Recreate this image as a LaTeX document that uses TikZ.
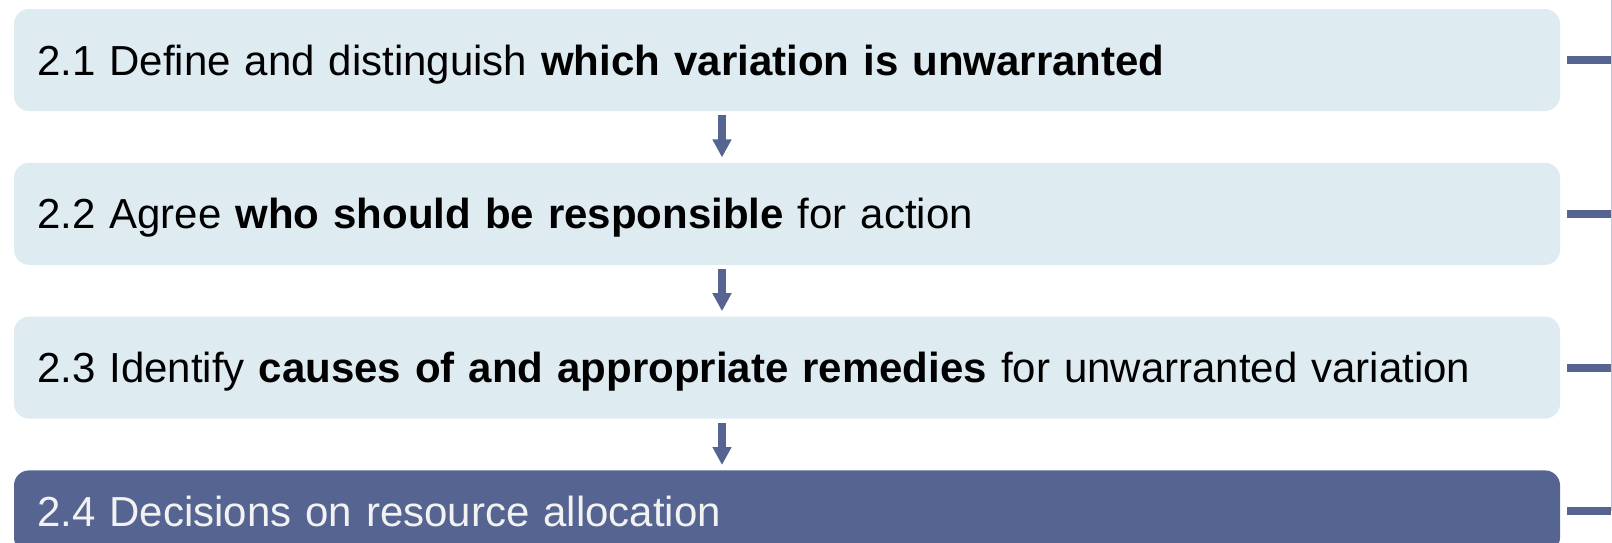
\documentclass[tikz,border=0pt]{standalone}
\usepackage{fontspec}
\setmainfont{Liberation Sans}
\usepackage{xcolor}
\usepackage{tikz}
\usetikzlibrary{arrows.meta,positioning}

\definecolor{steplight}{HTML}{DEEBF1}
\definecolor{stepdark}{HTML}{556491}
\definecolor{railgrey}{HTML}{BFC5D6}

\tikzset{
  stepbox/.style={rectangle,rounded corners=7.5pt,fill=steplight,text=black,
    text width=750pt,align=left,inner xsep=11.5pt,inner ysep=0pt,
    text height=15pt,text depth=0pt,
    minimum height=51pt,font=\fontsize{21pt}{25pt}\selectfont},
  lastbox/.style={stepbox,fill=stepdark,text=white!95!black,minimum height=41pt},
  flow/.style={draw=stepdark,line width=4pt,-{Triangle[width=9pt,length=9pt]},
    shorten <=2pt,shorten >=2.5pt},
  tick/.style={draw=stepdark,line width=4pt},
  rail/.style={draw=railgrey,line width=0.5pt}
}

\begin{document}
\begin{tikzpicture}[auto,node distance=25.5pt]
\clip (0,0) rectangle (806pt,-271pt);
\node[stepbox] (define) at (393.5pt,-30pt) {2.1 Define and distinguish \textbf{which variation is unwarranted}};
\node[stepbox] (agree) [below = of define]	{2.2 Agree \textbf{who should be responsible} for action};
\node[stepbox] (causes) [below = of agree]	{2.3 Identify \textbf{causes of and appropriate remedies} for unwarranted variation};
\node[lastbox] (decide) [below = of causes]	{2.4 Decisions on resource allocation};
% Now the arrows between the steps
\path ([xshift=-32.5pt]define.south) edge[flow] ([xshift=-32.5pt]agree.north);
\path ([xshift=-32.5pt]agree.south) edge[flow] ([xshift=-32.5pt]causes.north);
\path ([xshift=-32.5pt]causes.south) edge[flow] ([xshift=-32.5pt]decide.north);
% rail on the right with one tick per step
\coordinate (railtop) at (805.6pt,0);
\path (railtop) edge[rail] (railtop |- decide.east);
\path ([xshift=3.5pt]define.east) edge[tick]	(define.east -| railtop);
\path ([xshift=3.5pt]agree.east) edge[tick]	(agree.east -| railtop);
\path ([xshift=3.5pt]causes.east) edge[tick]	(causes.east -| railtop);
\path ([xshift=3.5pt]decide.east) edge[tick]	(decide.east -| railtop);
\end{tikzpicture}
\end{document}
